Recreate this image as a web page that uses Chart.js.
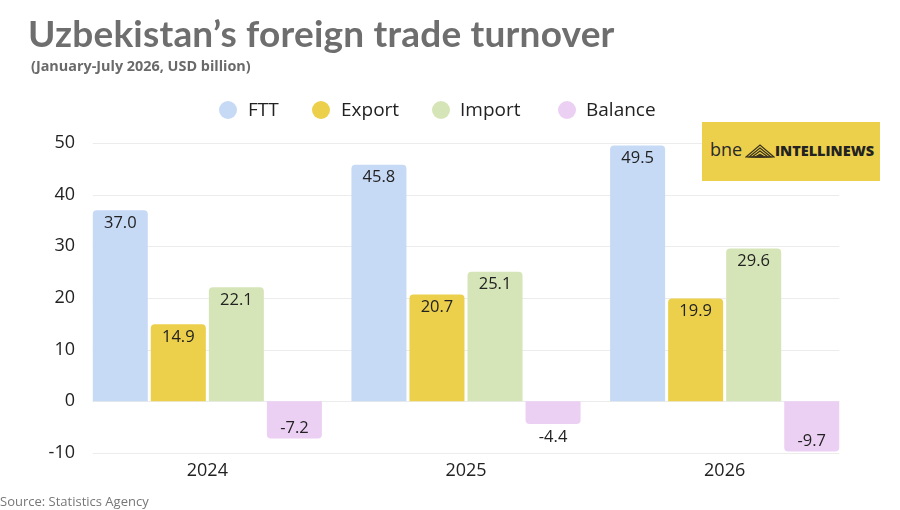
<!DOCTYPE html>
<html>
<head>
<meta charset="utf-8">
<script src="https://cdn.jsdelivr.net/npm/chart.js@4.4.1/dist/chart.umd.min.js"></script>
<style>
  html,body{margin:0;padding:0;background:#fff;}
  body{width:900px;height:510px;position:relative;overflow:hidden;font-family:"Open Sans",sans-serif;}
  #c{position:absolute;left:0;top:0;}
  .title{position:absolute;left:28px;top:10px;font-family:"Lato",sans-serif;font-weight:700;font-size:37px;color:#6e6e6e;white-space:nowrap;letter-spacing:0.2px;}
  .sub{position:absolute;left:31px;top:56px;font-family:"Open Sans",sans-serif;font-weight:700;font-size:14.4px;color:#6a6a6a;white-space:nowrap;}
  .legend{position:absolute;top:96px;left:0;height:26px;}
  .li{position:absolute;top:0;white-space:nowrap;font-size:19px;color:#222;line-height:26px;}
  .dot{position:absolute;width:18px;height:18px;border-radius:50%;top:4px;}
  .src{position:absolute;left:0;top:492px;font-size:13px;color:#777;white-space:nowrap;}
  .logo{position:absolute;left:702px;top:122px;width:178px;height:59px;background:#ecd04b;}
  .logo .bne{position:absolute;left:8px;top:16px;font-size:18px;color:#2a2a2a;font-family:"Open Sans",sans-serif;line-height:22px;}
  .logo .iw{position:absolute;left:73px;top:19px;font-size:14.5px;font-weight:800;color:#222;font-family:"Open Sans",sans-serif;line-height:20px;}
  .logo svg{position:absolute;left:43px;top:20px;}
</style>
</head>
<body>
<canvas id="c" width="900" height="510"></canvas>
<div class="title">Uzbekistan’s foreign trade turnover</div>
<div class="sub">(January-July 2026, USD billion)</div>
<div class="legend" id="legend"></div>
<div class="logo">
  <span class="bne">bne</span>
  <svg width="30" height="16" viewBox="0 0 30 16">
    <polygon points="1,15 15,3 29,15" fill="none" stroke="#3a3320" stroke-width="1.2"/>
    <polygon points="4,15 15,6 26,15" fill="none" stroke="#3a3320" stroke-width="1.2"/>
    <polygon points="7,15 15,9 23,15" fill="none" stroke="#3a3320" stroke-width="1.2"/>
    <polygon points="10,15 15,12 20,15" fill="#3a3320" stroke="#3a3320" stroke-width="1"/>
  </svg>
  <span class="iw">INTELLINEWS</span>
</div>
<div class="src">Source: Statistics Agency</div>
<script>
const categories = ["2024", "2025", "2026"];
const seriesNames = ["FTT", "Export", "Import", "Balance"];
const ftt = [37.0, 45.8, 49.5];
const exportVals = [14.9, 20.7, 19.9];
const importVals = [22.1, 25.1, 29.6];
const balance = [-7.2, -4.4, -9.7];
const colors = ["#c6d9f5", "#ecd04b", "#d6e5b8", "#ecd0f4"];
const yTicks = [-10, 0, 10, 20, 30, 40, 50];

// HTML legend
const legendPos = [{dot:219, text:248}, {dot:312, text:341}, {dot:432, text:460}, {dot:558, text:586}];
const lg = document.getElementById('legend');
seriesNames.forEach((n, i) => {
  const d = document.createElement('div'); d.className = 'dot';
  d.style.left = legendPos[i].dot + 'px'; d.style.background = colors[i];
  d.style.top = '5px';
  lg.appendChild(d);
  const t = document.createElement('div'); t.className = 'li';
  t.style.left = legendPos[i].text + 'px'; t.textContent = n;
  lg.appendChild(t);
});

const gridPlugin = {
  id: 'customGrid',
  beforeDatasetsDraw(chart) {
    const ctx = chart.ctx;
    const first = chart.getDatasetMeta(0).data[0];
    const lastMeta = chart.getDatasetMeta(chart.data.datasets.length - 1).data;
    const last = lastMeta[lastMeta.length - 1];
    const left = first.x - first.width / 2;
    const right = last.x + last.width / 2;
    const ys = chart.scales.y;
    ctx.save();
    ctx.strokeStyle = '#ececec';
    ctx.lineWidth = 1;
    yTicks.forEach(v => {
      const y = Math.round(ys.getPixelForValue(v)) + 0.5;
      ctx.beginPath(); ctx.moveTo(left, y); ctx.lineTo(right, y); ctx.stroke();
    });
    ctx.restore();
  }
};

const labelPlugin = {
  id: 'vals',
  afterDatasetsDraw(chart) {
    const ctx = chart.ctx;
    ctx.save();
    ctx.font = '16.5px "Open Sans"';
    ctx.fillStyle = '#222';
    ctx.textAlign = 'center';
    ctx.textBaseline = 'middle';
    chart.data.datasets.forEach((ds, i) => {
      chart.getDatasetMeta(i).data.forEach((bar, j) => {
        const v = ds.data[j];
        let y;
        if (v >= 0) y = bar.y + 13;
        else {
          const h = bar.y - bar.base;
          y = h > 28 ? bar.y - 10 : bar.y + 13;
        }
        ctx.fillText(v.toFixed(1), bar.x, y);
      });
    });
    ctx.restore();
  }
};

const seriesData = [ftt, exportVals, importVals, balance];
new Chart(document.getElementById('c'), {
  type: 'bar',
  data: {
    labels: categories,
    datasets: seriesNames.map((n, i) => ({
      label: n,
      data: seriesData[i],
      backgroundColor: colors[i],
      borderRadius: 4,
      categoryPercentage: 0.8975,
      barPercentage: 0.948
    }))
  },
  options: {
    responsive: false,
    animation: false,
    devicePixelRatio: 1,
    layout: { padding: { top: 143, right: 46, left: 0, bottom: 0 } },
    plugins: { legend: { display: false }, tooltip: { enabled: false } },
    scales: {
      x: {
        grid: { display: false, drawTicks: false },
        border: { display: false },
        ticks: { padding: 7, color: '#222', font: { family: 'Open Sans', size: 18 } },
        afterFit(s) { s.height = 57; }
      },
      y: {
        min: -10, max: 50,
        grid: { display: false, drawTicks: false },
        border: { display: false },
        ticks: { stepSize: 10, padding: 3, color: '#222', font: { family: 'Open Sans', size: 18 } },
        afterFit(s) { s.width = 78; }
      }
    }
  },
  plugins: [gridPlugin, labelPlugin]
});
</script>
</body>
</html>
